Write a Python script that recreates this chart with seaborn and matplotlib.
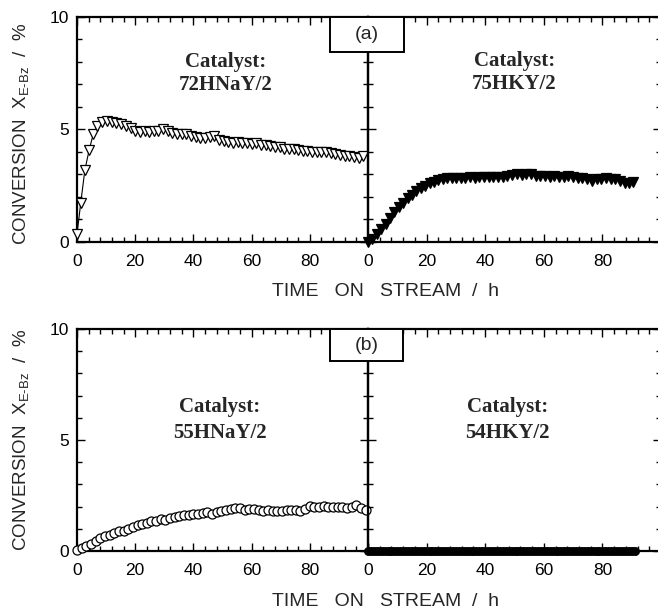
import matplotlib
matplotlib.use("Agg")
import matplotlib.pyplot as plt
from matplotlib.ticker import MultipleLocator, FixedLocator
from matplotlib.patches import Rectangle
import seaborn as sns
import pandas as pd

# ---------------- data ----------------
# (a) 72HNaY/2  (open down-triangles)
t_72hnay = [0, 1.3, 2.7, 4.2, 5.6, 7.0, 8.5, 10.2, 11.9, 13.5, 15.2, 16.8, 18.4,
            20.0, 21.6, 23.2, 24.8, 26.4, 28.0, 29.6, 31.2, 32.8, 34.4, 36.0, 37.6,
            39.2, 40.8, 42.4, 44.0, 45.6, 47.2, 48.8, 50.4, 52.0, 53.6, 55.2, 56.8,
            58.4, 60.0, 61.6, 63.2, 64.8, 66.4, 68.0, 69.6, 71.2, 72.8, 74.4, 76.0,
            77.6, 79.2, 80.8, 82.4, 84.0, 85.6, 87.2, 88.8, 90.4, 92.0, 93.6, 95.2,
            96.8, 98.2]
x_72hnay = [0.35, 1.75, 3.2, 4.1, 4.8, 5.15, 5.35, 5.38, 5.35, 5.3, 5.25, 5.15, 5.05,
            4.95, 4.9, 4.92, 4.9, 4.95, 4.92, 5.0, 4.95, 4.85, 4.82, 4.8, 4.78,
            4.72, 4.65, 4.6, 4.6, 4.68, 4.7, 4.55, 4.48, 4.45, 4.42, 4.45, 4.4,
            4.38, 4.35, 4.4, 4.3, 4.3, 4.25, 4.2, 4.22, 4.15, 4.15, 4.12, 4.1,
            4.05, 4.05, 4.02, 4.0, 4.0, 3.98, 3.95, 3.9, 3.85, 3.82, 3.8, 3.78,
            3.75, 3.8]

# (a) 75HKY/2  (filled down-triangles)
t_75hky = [0, 1.5, 3.0, 4.5, 6.0, 7.5, 9.0, 10.5, 12.0, 13.5, 15.0, 16.5, 18.0,
           19.5, 21.0, 22.5, 24.0, 25.5, 27.0, 28.5, 30.0,
           31.6, 33.2, 34.8, 36.4, 38.0, 39.6, 41.2, 42.8, 44.4, 46.0, 47.6, 49.2,
           50.8, 52.4, 54.0, 55.6, 57.2, 58.8, 60.4, 62.0, 63.6, 65.2, 66.8, 68.4,
           70.0, 71.6, 73.2, 74.8, 76.4, 78.0, 79.6, 81.2, 82.8, 84.4, 86.0, 87.6,
           89.2, 90.6]
x_75hky = [0.0, 0.15, 0.35, 0.58, 0.82, 1.08, 1.32, 1.55, 1.75, 1.95, 2.1, 2.25, 2.38,
           2.5, 2.6, 2.68, 2.74, 2.8, 2.84, 2.86, 2.85,
           2.86, 2.85, 2.87, 2.86, 2.88, 2.87, 2.9, 2.89, 2.9, 2.88, 2.92, 2.98,
           3.0, 2.96, 3.02, 3.0, 2.95, 2.93, 2.92, 2.9, 2.92, 2.88, 2.9, 2.92,
           2.88, 2.85, 2.83, 2.82, 2.72, 2.8, 2.82, 2.83, 2.8, 2.78, 2.7, 2.62,
           2.6, 2.65]

# (b) 55HNaY/2  (open circles)
t_55hnay = [0, 1.6, 3.2, 4.8, 6.4, 8.0, 9.6, 11.2, 12.8, 14.4, 16.0, 17.6, 19.2,
            20.8, 22.4, 24.0, 25.6, 27.2, 28.8, 30.4, 32.0, 33.6, 35.2, 36.8, 38.4,
            40.0, 41.6, 43.2, 44.8, 46.4, 48.0, 49.6, 51.2, 52.8, 54.4, 56.0, 57.6,
            59.2, 60.8, 62.4, 64.0, 65.6, 67.2, 68.8, 70.4, 72.0, 73.6, 75.2, 76.8,
            78.4, 80.0, 81.6, 83.2, 84.8, 86.4, 88.0, 89.6, 91.2, 92.8, 94.4, 96.0,
            97.6, 99.2]
x_55hnay = [0.05, 0.12, 0.22, 0.32, 0.45, 0.57, 0.66, 0.74, 0.82, 0.88, 0.92, 1.0, 1.1,
            1.17, 1.22, 1.28, 1.33, 1.36, 1.45, 1.38, 1.5, 1.55, 1.58, 1.6, 1.64,
            1.66, 1.68, 1.7, 1.77, 1.65, 1.75, 1.8, 1.84, 1.88, 1.92, 1.94, 1.85,
            1.88, 1.88, 1.83, 1.82, 1.84, 1.8, 1.78, 1.8, 1.84, 1.86, 1.85, 1.8,
            1.9, 2.03, 1.98, 2.0, 2.04, 2.0, 2.0, 1.98, 1.96, 1.92, 2.0, 2.08,
            1.95, 1.85]

# (b) 54HKY/2  (filled circles, no conversion)
t_54hky = [0, 1, 2, 3, 4, 5, 6, 7, 8, 9, 10, 11, 12, 13, 14, 15, 16, 17, 18, 19,
           20, 21, 22, 23, 24, 25, 26, 27, 28, 29, 30, 31, 32, 33, 34, 35, 36, 37,
           38, 39, 40, 41, 42, 43, 44, 45, 46, 47, 48, 49, 50, 51, 52, 53, 54, 55,
           56, 57, 58, 59, 60, 61, 62, 63, 64, 65, 66, 67, 68, 69, 70, 71, 72, 73,
           74, 75, 76, 77, 78, 79, 80, 81, 82, 83, 84, 85, 86, 87, 88, 89, 90, 91]
x_54hky = [0.0, 0.0, 0.0, 0.0, 0.0, 0.0, 0.0, 0.0, 0.0, 0.0, 0.0, 0.0, 0.0, 0.0, 0.0,
           0.0, 0.0, 0.0, 0.0, 0.0, 0.0, 0.0, 0.0, 0.0, 0.0, 0.0, 0.0, 0.0, 0.0, 0.0,
           0.0, 0.0, 0.0, 0.0, 0.0, 0.0, 0.0, 0.0, 0.0, 0.0, 0.0, 0.0, 0.0, 0.0, 0.0,
           0.0, 0.0, 0.0, 0.0, 0.0, 0.0, 0.0, 0.0, 0.0, 0.0, 0.0, 0.0, 0.0, 0.0, 0.0,
           0.0, 0.0, 0.0, 0.0, 0.0, 0.0, 0.0, 0.0, 0.0, 0.0, 0.0, 0.0, 0.0, 0.0, 0.0,
           0.0, 0.0, 0.0, 0.0, 0.0, 0.0, 0.0, 0.0, 0.0, 0.0, 0.0, 0.0, 0.0, 0.0, 0.0,
           0.0, 0.0]

catalysts = ["72HNaY/2", "75HKY/2", "55HNaY/2", "54HKY/2"]
panel_labels = ["(a)", "(b)"]
x_ticks = [0, 20, 40, 60, 80]
y_ticks = [0, 5, 10]
x_label = "TIME   ON   STREAM  /  h"
y_label = r"CONVERSION  X$_{\mathregular{E\text{-}Bz}}$  /  %"

# ---------------- style ----------------
sns.set_style("ticks")
plt.rcParams["font.family"] = ["Liberation Sans", "DejaVu Sans"]
plt.rcParams["mathtext.fontset"] = "custom"
plt.rcParams["mathtext.rm"] = "Liberation Sans"
plt.rcParams["mathtext.it"] = "Liberation Sans:italic"
plt.rcParams["mathtext.bf"] = "Liberation Sans:bold"

W, H = 658, 613
fig = plt.figure(figsize=(W / 100, H / 100), dpi=100)


def fx(px):
    return px / W


def fy(py):
    return 1 - py / H


rows = [(17, 242), (329, 551)]
cols = [(77, 368), (368, 661)]

axes = []
for (top, bot) in rows:
    row_axes = []
    for (l, r) in cols:
        ax = fig.add_axes([fx(l), fy(bot), (r - l) / W, (bot - top) / H])
        row_axes.append(ax)
    axes.append(row_axes)

series = [
    (axes[0][0], t_72hnay, x_72hnay, "v", "white", 7.0),
    (axes[0][1], t_75hky, x_75hky, "v", "black", 6.8),
    (axes[1][0], t_55hnay, x_55hnay, "o", "white", 6.5),
    (axes[1][1], t_54hky, x_54hky, "o", "black", 5.5),
]

for ax, t, xv, mk, fc, ms in series:
    df = pd.DataFrame({"t": t, "x": xv})
    sns.lineplot(data=df, x="t", y="x", ax=ax, color="black", linewidth=0.8,
                 marker=mk, markersize=ms, markerfacecolor=fc,
                 markeredgecolor="black", markeredgewidth=0.9,
                 clip_on=False, zorder=5, estimator=None, sort=False)

for i, row_axes in enumerate(axes):
    for j, ax in enumerate(row_axes):
        ax.set_xlim(0, 100)
        ax.set_ylim(0, 10)
        ax.xaxis.set_major_locator(FixedLocator(x_ticks + [100]))
        ax.xaxis.set_minor_locator(MultipleLocator(4))
        ax.yaxis.set_major_locator(FixedLocator(y_ticks))
        ax.yaxis.set_minor_locator(MultipleLocator(1))
        ax.set_xticklabels([str(v) for v in x_ticks] + [""])
        ax.tick_params(which="both", direction="in", top=True, right=True,
                       bottom=True, left=True, width=1.0, labelsize=12.5,
                       colors="black")
        ax.tick_params(which="major", length=5.5)
        ax.tick_params(which="minor", length=3.5)
        ax.tick_params(axis="x", pad=8.5)
        ax.tick_params(axis="y", pad=6)
        if j == 1:
            ax.tick_params(labelleft=False)
        ax.set_xlabel("")
        ax.set_ylabel("")
        for s in ax.spines.values():
            s.set_linewidth(1.6)
            s.set_color("black")
        ax.set_facecolor("none")

# catalyst annotations
cat_pos = [
    (axes[0][0], 51.0, 8.0, 6.98),
    (axes[0][1], 50.0, 8.05, 7.02),
    (axes[1][0], 49.0, 6.49, 5.32),
    (axes[1][1], 47.5, 6.49, 5.32),
]
for (ax, xc, y1, y2), name in zip(cat_pos, catalysts):
    ax.text(xc, y1, "Catalyst:", ha="center", va="center", fontsize=15,
            fontweight="bold", family="Liberation Serif")
    ax.text(xc, y2, name, ha="center", va="center", fontsize=15,
            fontweight="bold", family="Liberation Serif")

# panel label boxes
boxes = [(330, 17, 404, 52), (330, 329, 403, 361)]
for (l, t, r, b), lab in zip(boxes, panel_labels):
    rect = Rectangle((fx(l), fy(b)), (r - l) / W, (b - t) / H,
                     transform=fig.transFigure, facecolor="white",
                     edgecolor="black", linewidth=1.4, zorder=10)
    fig.add_artist(rect)
    fig.text(fx((l + r) / 2), fy((t + b) / 2), lab, ha="center", va="center",
             fontsize=14, zorder=11)

# axis labels
ylabel_centers = [134, 440]
for (top, bot), yc in zip(rows, ylabel_centers):
    fig.text(fx(21), fy(yc), y_label, rotation=90, ha="center",
             va="center", fontsize=13.5)
    fig.text(fx(385), fy(bot + 50), x_label, ha="center", va="center",
             fontsize=14)

fig.savefig("out.png", dpi=100)
